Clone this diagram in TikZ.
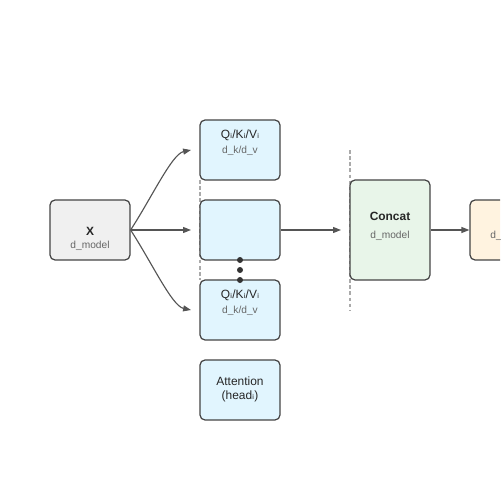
\documentclass[tikz,border=0pt]{standalone}
\usepackage{fontspec}
\setmainfont{Liberation Sans}
\newfontfamily\subfont{DejaVu Sans}
\usetikzlibrary{arrows.meta}
\definecolor{edgegray}{HTML}{555555}
\definecolor{boxline}{HTML}{444444}
\definecolor{subgray}{HTML}{666666}
\definecolor{dashgray}{HTML}{AAAAAA}
\definecolor{inputfill}{HTML}{F0F0F0}
\definecolor{headfill}{HTML}{E1F5FE}
\definecolor{concatfill}{HTML}{E8F5E9}
\definecolor{outfill}{HTML}{FFF3E0}
\newcommand{\isub}{{\subfont ᵢ}}

\begin{document}
\begin{tikzpicture}[x=0.02cm,y=-0.02cm,>={Triangle[length=4.5pt,width=3.4pt]}]
\tikzstyle{box}=[rectangle,rounded corners=0.1cm,draw=boxline,line width=0.7pt,minimum width=1.6cm,minimum height=1.2cm,inner sep=0pt]
\tikzstyle{title}=[inner sep=0pt,font=\fontsize{6.8}{8}\selectfont,text=black!85]
\tikzstyle{bold}=[title,font=\fontsize{6.8}{8}\selectfont\bfseries]
\tikzstyle{dim}=[inner sep=0pt,font=\fontsize{5.8}{7}\selectfont,text=subgray]
\tikzstyle{link}=[->,draw=edgegray,line width=0.65pt]
\tikzstyle{guide}=[draw=dashgray,line width=0.7pt,dash pattern=on 2pt off 1.5pt]
\useasboundingbox (0,0) rectangle (500,500);
\clip (0,0) rectangle (500,500);

% guide lines
\draw[guide] (200,180) -- (200,280);
\draw[guide] (350,150) -- (350,310);

% boxes
\node[box,fill=inputfill](X) at (90,230) {};
\node[box,fill=headfill](Qtop) at (240,150) {};
\node[box,fill=headfill](Mid) at (240,230) {};
\node[box,fill=headfill](Qbot) at (240,310) {};
\node[box,fill=headfill](Att) at (240,390) {};
\node[box,fill=concatfill,minimum height=2cm](Concat) at (390,230) {};
\node[box,fill=outfill](Out) at (510,230) {};

% texts
\node[bold](Xname) at (90,231) {X};
\node[dim](Xdim) at (90,246) {d\_model};
\node[title](Qtopname) at (240,135) {Q\isub/K\isub/V\isub};
\node[dim](Qtopdim) at (240,151) {d\_k/d\_v};
\node[title](Qbotname) at (240,295) {Q\isub/K\isub/V\isub};
\node[dim](Qbotdim) at (240,311) {d\_k/d\_v};
\node[title](Attname) at (240,381) {Attention};
\node[title](Atthead) at (240,396) {(head\isub)};
\node[bold](Concatname) at (390,216) {Concat};
\node[dim](Concatdim) at (390,236) {d\_model};
\node[dim](Outdim) at (510,236) {d\_model};

% dots
\foreach \y in {260,270,280}
  \fill[black!80] (240,\y) circle (0.06cm);

% connectors
\coordinate (Xout) at (X.east);
\coordinate (Ttop) at (191,150);
\coordinate (Tmid) at (191,230);
\coordinate (Tbot) at (191,310);
\coordinate (Cin) at (341,230);
\draw[link] (Xout) .. controls (152,197) and (172,154) .. (Ttop);
\draw[link] (Xout) -- (Tmid);
\draw[link] (Xout) .. controls (152,263) and (172,306) .. (Tbot);
\draw[link] (Mid.east) -- (Cin);
\draw[link] (Concat.east) -- (Out.west);
\end{tikzpicture}
\end{document}
